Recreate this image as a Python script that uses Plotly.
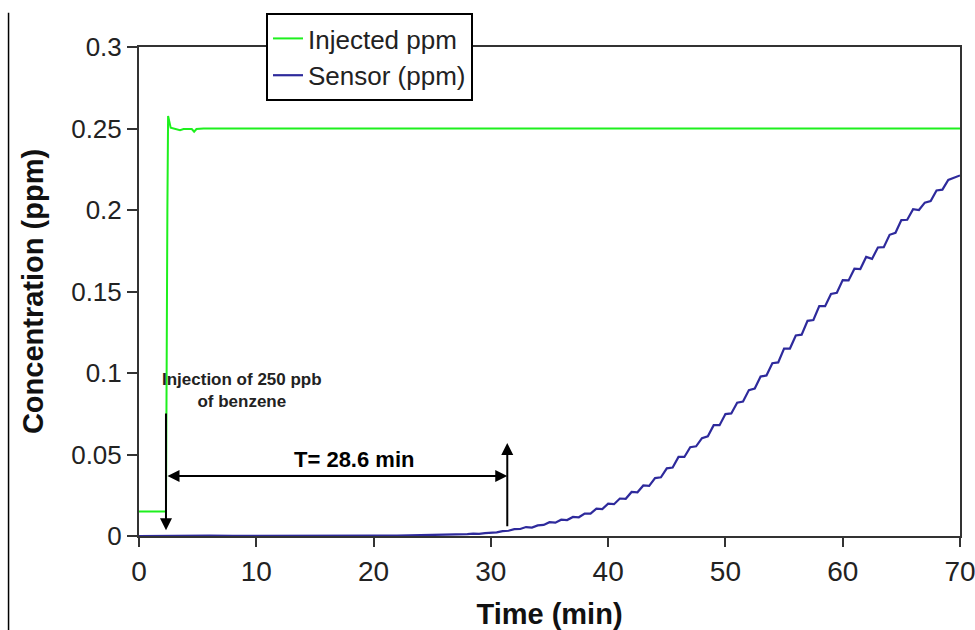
import plotly.graph_objects as go

# ---- data ----
injected_time = [0, 2.3, 2.42, 2.48, 2.7, 3.2, 3.5, 3.8, 4.5, 4.7, 4.9, 5.5, 70]
injected_ppm = [0.015, 0.015, 0.20, 0.2577, 0.2505, 0.2495, 0.249, 0.2497, 0.2497, 0.248, 0.2497, 0.25, 0.25]

sensor_time = [0, 2, 4, 6, 8, 10, 12, 14, 16, 18, 20, 22, 24, 25, 25.5, 26, 26.5, 27, 27.5, 28, 28.5, 29, 29.5,
               30, 30.5, 31, 31.5, 32, 32.5, 33, 33.5, 34, 34.5, 35, 35.5, 36, 36.5, 37, 37.5, 38, 38.5,
               39, 39.5, 40, 40.5, 41, 41.5, 42, 42.5, 43, 43.5, 44, 44.5, 45, 45.5, 46, 46.5, 47, 47.5,
               48, 48.5, 49, 49.5, 50, 50.5, 51, 51.5, 52, 52.5, 53, 53.5, 54, 54.5, 55, 55.5, 56, 56.5,
               57, 57.5, 58, 58.5, 59, 59.5, 60, 60.5, 61, 61.5, 62, 62.5, 63, 63.5, 64, 64.5, 65, 65.5,
               66, 66.5, 67, 67.5, 68, 68.5, 69, 69.5, 70]
sensor_ppm = [0.0, 0.0002, 0.0, 0.0003, 0.0001, 0.0002, 0.0, 0.0003, 0.0001, 0.0002, 0.0003, 0.0002, 0.0004,
              0.0005, 0.0008, 0.0006, 0.0010, 0.0009, 0.0012, 0.0011, 0.0015, 0.0013, 0.0018,
              0.0020, 0.0022, 0.0030, 0.0032, 0.0042, 0.0043, 0.0055, 0.0052, 0.0065, 0.0068, 0.0085, 0.0082,
              0.0100, 0.0098, 0.0117, 0.0115, 0.0138, 0.0137, 0.0168, 0.0165, 0.0198, 0.0195, 0.0230, 0.0228,
              0.0270, 0.0268, 0.0310, 0.0308, 0.0355, 0.0360, 0.0415, 0.0420, 0.0485, 0.0485, 0.0545, 0.0550,
              0.0600, 0.0612, 0.0680, 0.0680, 0.0748, 0.0752, 0.0818, 0.0825, 0.0895, 0.0905, 0.0978, 0.0985,
              0.1060, 0.1065, 0.1150, 0.1150, 0.1230, 0.1235, 0.1320, 0.1325, 0.1410, 0.1410, 0.1485, 0.1492,
              0.1570, 0.1568, 0.1640, 0.1638, 0.1712, 0.1700, 0.1770, 0.1772, 0.1848, 0.1860, 0.1938, 0.1940,
              0.2005, 0.2000, 0.2045, 0.2055, 0.2120, 0.2125, 0.2185, 0.2198, 0.2212]

x_ticks = [0, 10, 20, 30, 40, 50, 60, 70]
y_ticks = [0, 0.05, 0.1, 0.15, 0.2, 0.25, 0.3]
y_tick_text = ["0", "0.05", "0.1", "0.15", "0.2", "0.25", "0.3"]

injection_t = 2.3
response_t = 31.4

FONT = "Arial, Liberation Sans, sans-serif"
NARROW = "Liberation Sans Narrow, Arial Narrow, Arial"

fig = go.Figure()
fig.add_trace(go.Scatter(x=injected_time, y=injected_ppm, mode="lines", name="Injected ppm",
                         line=dict(color="#1ef01e", width=2)))
fig.add_trace(go.Scatter(x=sensor_time, y=sensor_ppm, mode="lines", name="Sensor (ppm)",
                         line=dict(color="#2e2a9c", width=2.2)))

# arrows
fig.add_annotation(x=injection_t, y=0.0035, ax=injection_t, ay=0.076, xref="x", yref="y",
                   axref="x", ayref="y", showarrow=True, arrowhead=2, arrowsize=1.2, arrowwidth=2,
                   arrowcolor="black", text="")
fig.add_annotation(x=response_t, y=0.057, ax=response_t, ay=0.005, xref="x", yref="y",
                   axref="x", ayref="y", showarrow=True, arrowhead=2, arrowsize=1.2, arrowwidth=2,
                   arrowcolor="black", text="")
fig.add_annotation(x=response_t, y=0.0368, ax=injection_t, ay=0.0368, xref="x", yref="y",
                   axref="x", ayref="y", showarrow=True, arrowhead=2, arrowside="end+start",
                   arrowsize=1.2, arrowwidth=2, arrowcolor="black", text="")
fig.add_annotation(x=18.3, y=0.047, text="<b>T= 28.6 min</b>", showarrow=False,
                   font=dict(family=FONT, size=22, color="black"))
fig.add_annotation(x=8.8, y=0.0895, text="<b>Injection of 250 ppb<br>of benzene</b>", showarrow=False,
                   font=dict(family=NARROW, size=17, color="#222"), align="center")

# left page border line
fig.add_shape(type="line", xref="paper", yref="paper", x0=-0.1589, x1=-0.1589, y0=1.07, y1=-0.2,
              line=dict(color="black", width=1.5))

fig.update_layout(
    width=975, height=630,
    margin=dict(l=139, r=15, t=47, b=94, autoexpand=False),
    paper_bgcolor="white", plot_bgcolor="white",
    font=dict(family=FONT, size=24, color="#222"),
    showlegend=True,
    legend=dict(x=0.1547, y=1.0695, xanchor="left", yanchor="top",
                bgcolor="white", bordercolor="black", borderwidth=2,
                font=dict(family=FONT, size=26, color="#222"),
                itemwidth=30, tracegroupgap=0),
    xaxis=dict(range=[0, 70], tickvals=x_ticks, ticks="outside", ticklen=9, tickwidth=1.5,
               tickcolor="#333", showline=True, linecolor="#333", linewidth=2, mirror=True,
               showgrid=False, zeroline=False, automargin=False, ticklabeloverflow="allow",
               tickfont=dict(family=FONT, size=28, color="#222"),
               title=dict(text="<b>Time (min)</b>", font=dict(family=FONT, size=29, color="#111"),
                          standoff=18)),
    yaxis=dict(range=[0, 0.3], tickvals=y_ticks, ticktext=y_tick_text, ticks="outside", ticklen=10,
               tickwidth=1.5, tickcolor="#333", showline=True, linecolor="#333", linewidth=2,
               mirror=True, showgrid=False, zeroline=False, automargin=False,
               tickfont=dict(family=FONT, size=26, color="#222"),
               title=dict(text="<b>Concentration (ppm)</b>", font=dict(family=FONT, size=29, color="#111"),
                          standoff=19)),
)

fig.write_html("out.html")
